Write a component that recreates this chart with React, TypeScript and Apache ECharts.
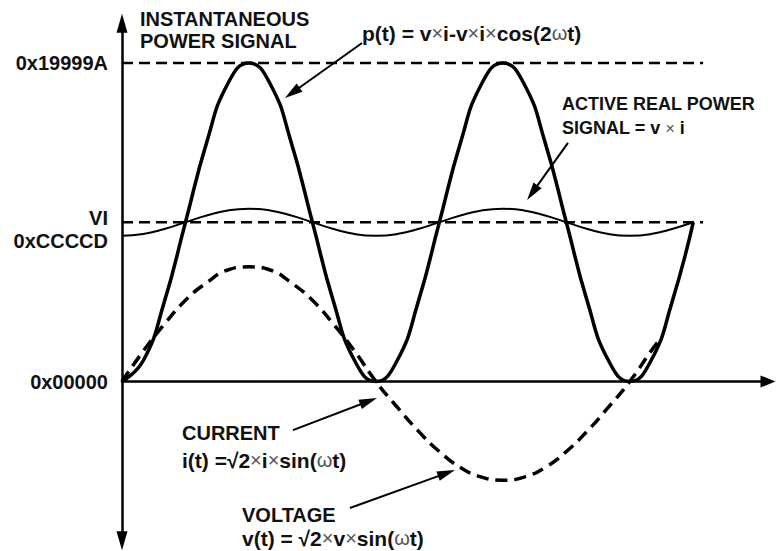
import React, { useEffect, useRef } from "react";
import * as echarts from "echarts";

// Phase angle ωt in degrees along the horizontal axis
const angles = [0, 15, 30, 45, 60, 75, 90, 105, 120, 135, 150, 165, 180, 195, 210, 225, 240, 255, 270, 285, 300, 315, 330, 345, 360, 375, 390, 405];
// Instantaneous power p(t), in units of VI (0xCCCCD)
const instantaneousPower = [0, 0.13, 0.5, 1, 1.5, 1.87, 2, 1.87, 1.5, 1, 0.5, 0.13, 0, 0.13, 0.5, 1, 1.5, 1.87, 2, 1.87, 1.5, 1, 0.5, 0.13, 0, 0.13, 0.5, 1];
// Active real power signal with ripple
const activePower = [0.915, 0.926, 0.958, 1, 1.042, 1.074, 1.085, 1.074, 1.042, 1, 0.958, 0.926, 0.915, 0.926, 0.958, 1, 1.042, 1.074, 1.085, 1.074, 1.042, 1, 0.958, 0.926, 0.915, 0.926, 0.958, 1];
// Voltage / current (dashed)
const voltageAngles = [0, 15, 30, 45, 60, 75, 90, 105, 120, 135, 150, 165, 180, 195, 210, 225, 240, 255, 270, 285, 300, 315, 330, 345, 360, 375, 381];
const voltage = [0, 0.19, 0.36, 0.51, 0.62, 0.7, 0.72, 0.7, 0.62, 0.51, 0.36, 0.19, 0, -0.16, -0.31, -0.44, -0.54, -0.6, -0.62, -0.6, -0.54, -0.44, -0.31, -0.16, 0, 0.19, 0.26];
// Dashed reference levels (0x19999A and VI)
const referenceLevels = [2, 1];
const referenceEnd = 412;
// Y-axis labels
const yLabelValues = [0, 1, 2];
const yLabelTexts = ["0x00000", "VI|0xCCCCD", "0x19999A"];
// Annotation arrows: from [angle, value] to [angle, value]
const arrowFrom = [[170.2, 2.126], [316.2, 1.498], [121.2, -0.305], [161.6, -0.794]];
const arrowTo = [[120.7, 1.813], [290.9, 1.186], [174.8, -0.124], [230.1, -0.575]];

const FONT = "'Liberation Sans', Arial, Helvetica, sans-serif";
const INK = "#111111";

function pairs(xs: number[], ys: number[]) {
  return xs.map((x, i) => [x, ys[i]]);
}

export default function App() {
  const ref = useRef<HTMLDivElement>(null);
  useEffect(() => {
    if (!ref.current) return;
    const chart = echarts.init(ref.current, null, { renderer: "svg" });

    const richBold = { fontFamily: FONT, fontWeight: "bold", fontSize: 20, fill: INK };
    const richSym = { fontFamily: FONT, fontWeight: "normal", fontSize: 18, fill: "#555555" };
    const textEl = (x: number, y: number, text: string, size = 20, symSize = size - 2) => ({
      type: "text",
      x,
      y,
      silent: true,
      style: {
        text,
        fill: INK,
        fontFamily: FONT,
        fontWeight: "bold",
        fontSize: size,
        verticalAlign: "middle",
        align: "left",
        rich: { b: { ...richBold, fontSize: size }, s: { ...richSym, fontSize: symSize } },
      },
    });

    const option: any = {
      animation: false,
      backgroundColor: "#ffffff",
      grid: { left: 122, right: 8, top: 23.2, bottom: 10.25 },
      xAxis: {
        type: "value",
        min: 0,
        max: 458,
        axisLine: {
          show: true,
          onZero: true,
          symbol: ["none", "triangle"],
          symbolSize: [12, 15],
          lineStyle: { color: "#000", width: 2.5 },
        },
        axisTick: { show: false },
        axisLabel: { show: false },
        splitLine: { show: false },
      },
      yAxis: {
        type: "value",
        min: -1,
        max: 2.25,
        interval: 1,
        axisLine: {
          show: true,
          onZero: false,
          symbol: ["triangle", "triangle"],
          symbolSize: [11, 19],
          lineStyle: { color: "#000", width: 2.5 },
        },
        axisTick: { show: false },
        splitLine: { show: false },
        axisLabel: {
          margin: 14,
          color: INK,
          fontFamily: FONT,
          fontWeight: "bold",
          fontSize: 20,
          formatter: (v: number) => {
            const i = yLabelValues.indexOf(Math.round(v * 1000) / 1000);
            if (i < 0) return "";
            const t = yLabelTexts[i];
            if (t.indexOf("|") >= 0) {
              const [a, b] = t.split("|");
              return `{e| }\n{m|${a}}\n{m|${b}}`;
            }
            return t;
          },
          rich: {
            e: { fontSize: 4, lineHeight: 14, fontFamily: FONT },
            m: { fontSize: 20, lineHeight: 23, fontWeight: "bold", fontFamily: FONT, color: INK, align: "right" },
          },
        },
      },
      series: [
        ...referenceLevels.map((lv) => ({
          type: "line",
          data: [[0, lv], [referenceEnd, lv]],
          symbol: "none",
          silent: true,
          z: 1,
          lineStyle: { color: "#000", width: 2.5, type: [11, 6] },
        })),
        {
          type: "line",
          data: pairs(voltageAngles, voltage),
          smooth: true,
          symbol: "none",
          silent: true,
          z: 2,
          lineStyle: { color: "#000", width: 3.5, type: [12, 7] },
        },
        {
          type: "line",
          data: pairs(angles, activePower),
          smooth: true,
          symbol: "none",
          silent: true,
          z: 3,
          lineStyle: { color: "#000", width: 2 },
        },
        {
          type: "line",
          data: pairs(angles, instantaneousPower),
          smooth: true,
          symbol: "none",
          silent: true,
          z: 4,
          lineStyle: { color: "#000", width: 3.5 },
          markLine: {
            silent: true,
            symbol: ["none", "triangle"],
            symbolSize: 16,
            label: { show: false },
            itemStyle: { color: "#000" },
            lineStyle: { color: "#000", width: 2, type: "solid" },
            emphasis: { disabled: true },
            data: arrowFrom.map((f, i) => [
              { coord: f },
              { coord: arrowTo[i], symbol: "triangle", symbolSize: [10, 18] },
            ]),
          },
        },
      ],
      graphic: [
        textEl(140, 19, "INSTANTANEOUS"),
        textEl(140, 41, "POWER SIGNAL"),
        textEl(362, 33, "{b|p(t) = v}{s|×}{b|i-v}{s|×}{b|i}{s|×}{b|cos(2}{s|ω}{b|t)}", 21, 20),
        textEl(562, 104, "ACTIVE REAL POWER", 18),
        textEl(562, 128, "{b|SIGNAL = v }{s|×}{b| i}", 18),
        textEl(182, 433, "CURRENT"),
        textEl(182, 460, "{b|i(t) =√2}{s|×}{b|i}{s|×}{b|sin(}{s|ω}{b|t)}", 21, 20),
        textEl(242, 515, "VOLTAGE"),
        textEl(242, 538, "{b|v(t) = √2}{s|×}{b|v}{s|×}{b|sin(}{s|ω}{b|t)}", 21, 20),
      ],
    };
    chart.setOption(option);
    return () => chart.dispose();
  }, []);
  return (
    <div
      ref={ref}
      style={{ position: "absolute", left: 0, top: 0, width: 776, height: 551, background: "#fff" }}
    />
  );
}
